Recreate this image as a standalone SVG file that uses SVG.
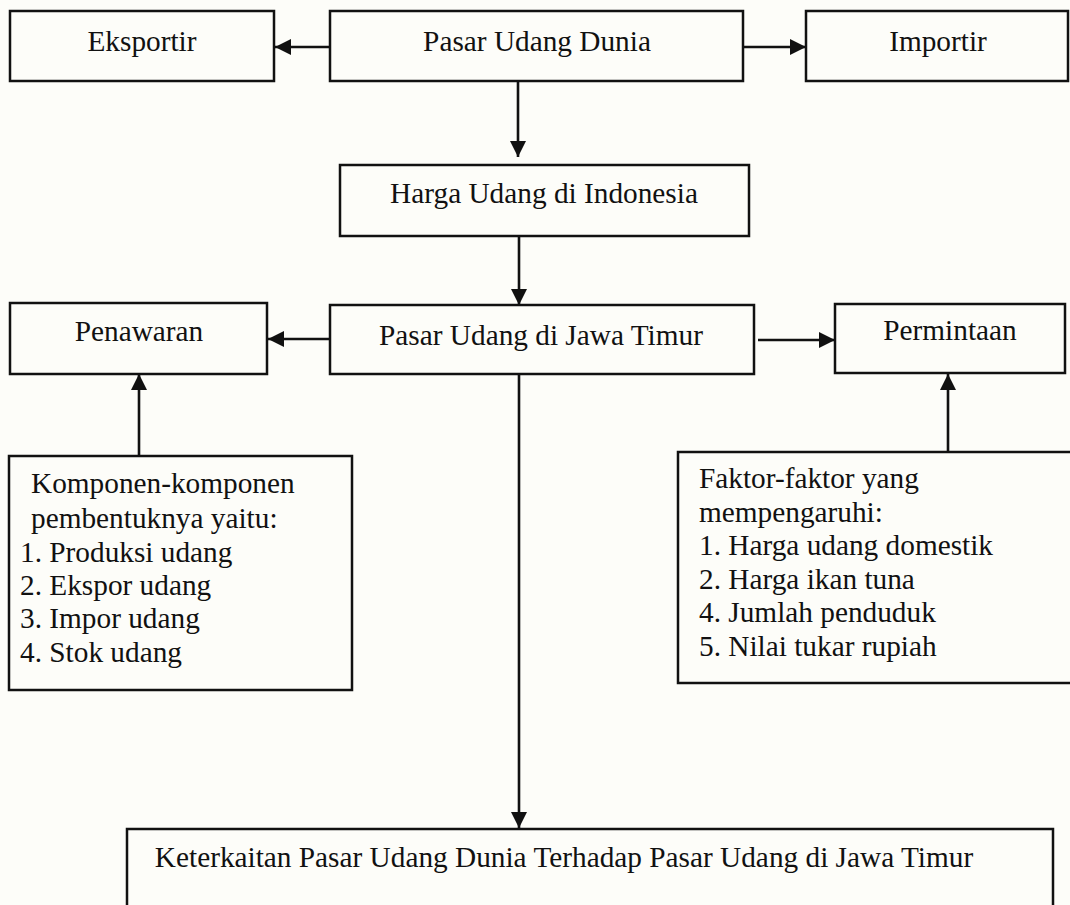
<svg xmlns="http://www.w3.org/2000/svg" width="1070" height="905" viewBox="0 0 1070 905">
<defs>
<style>
.box{fill:none;stroke:#111;stroke-width:2.5}
.t{font-family:"Liberation Serif","Times New Roman",serif;font-size:29.3px;fill:#111}
.c{text-anchor:middle}
.ln{fill:none;stroke:#111;stroke-width:2.6}
</style>
<marker id="ah" markerUnits="userSpaceOnUse" markerWidth="17" markerHeight="16" refX="16" refY="8" orient="auto">
<path d="M0,0 L16,8 L0,16 z" fill="#111"/>
</marker>
</defs>
<rect width="1070" height="905" fill="#fdfdf9"/>
<g id="connectors">
<line class="ln" x1="330" y1="47" x2="275" y2="47" marker-end="url(#ah)"/>
<line class="ln" x1="743" y1="47" x2="806" y2="47" marker-end="url(#ah)"/>
<line class="ln" x1="518" y1="81" x2="518" y2="157" marker-end="url(#ah)"/>
<line class="ln" x1="519" y1="236" x2="519" y2="305" marker-end="url(#ah)"/>
<line class="ln" x1="330" y1="339" x2="268" y2="339" marker-end="url(#ah)"/>
<line class="ln" x1="758" y1="340" x2="835" y2="340" marker-end="url(#ah)"/>
<line class="ln" x1="139" y1="456" x2="139" y2="374" marker-end="url(#ah)"/>
<line class="ln" x1="948" y1="452" x2="948" y2="374" marker-end="url(#ah)"/>
<line class="ln" x1="519" y1="374" x2="519" y2="828" marker-end="url(#ah)"/>
</g>
<g id="eksportir">
<rect class="box" x="10" y="11" width="264" height="70"/>
<text class="t c" x="142" y="51">Eksportir</text>
</g>
<g id="pasar-dunia">
<rect class="box" x="330" y="11" width="413" height="70"/>
<text class="t c" x="537" y="51">Pasar Udang Dunia</text>
</g>
<g id="importir">
<rect class="box" x="806" y="11" width="262" height="70"/>
<text class="t c" x="938" y="51">Importir</text>
</g>
<g id="harga">
<rect class="box" x="340" y="165" width="409" height="71"/>
<text class="t c" x="544" y="203">Harga Udang di Indonesia</text>
</g>
<g id="penawaran">
<rect class="box" x="10" y="303" width="257" height="71"/>
<text class="t c" x="139" y="341">Penawaran</text>
</g>
<g id="pasar-jatim">
<rect class="box" x="330" y="305" width="424" height="69"/>
<text class="t c" x="541" y="345">Pasar Udang di Jawa Timur</text>
</g>
<g id="permintaan">
<rect class="box" x="835" y="304" width="230" height="69"/>
<text class="t c" x="950" y="340">Permintaan</text>
</g>
<g id="komponen">
<rect class="box" x="9" y="456" width="343" height="234"/>
<text class="t" x="31" y="493">Komponen-komponen</text>
<text class="t" x="31" y="528">pembentuknya yaitu:</text>
<text class="t" x="20" y="562">1. Produksi udang</text>
<text class="t" x="20" y="595">2. Ekspor udang</text>
<text class="t" x="20" y="628">3. Impor udang</text>
<text class="t" x="20" y="662">4. Stok udang</text>
</g>
<g id="faktor">
<rect class="box" x="678" y="452" width="420" height="231"/>
<text class="t" x="699" y="488">Faktor-faktor yang</text>
<text class="t" x="699" y="522">mempengaruhi:</text>
<text class="t" x="699" y="555">1. Harga udang domestik</text>
<text class="t" x="699" y="589">2. Harga ikan tuna</text>
<text class="t" x="699" y="622">4. Jumlah penduduk</text>
<text class="t" x="699" y="656">5. Nilai tukar rupiah</text>
</g>
<g id="keterkaitan">
<rect class="box" x="127" y="829" width="926" height="100"/>
<text class="t c" x="564" y="867">Keterkaitan Pasar Udang Dunia Terhadap Pasar Udang di Jawa Timur</text>
</g>
</svg>
